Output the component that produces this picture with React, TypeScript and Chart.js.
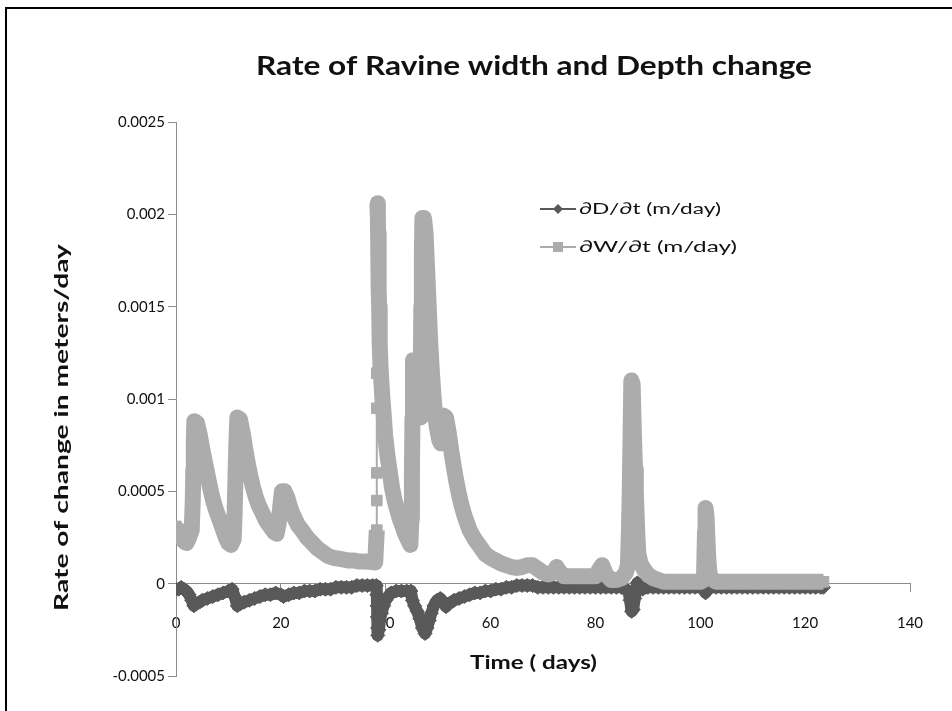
import React, { useEffect, useRef } from "react";
import { Chart, registerables } from "chart.js";

Chart.register(...registerables);

// ∂W/∂t series: [time (days), rate (m/day)]
const widthRatePoints: [number, number][] = [
  [0, 0.00031], [0.5, 0.00028], [1, 0.00025], [1.5, 0.00023], [2, 0.00022], [2.5, 0.00025], [3, 0.00029],
  [3.2, 0.00045], [3.3, 0.00062], [3.4, 0.00078], [3.5, 0.00088], [4, 0.00087], [4.5, 0.00081], [5, 0.00073],
  [5.5, 0.00066], [6, 0.00059], [6.5, 0.00052], [7, 0.00046], [7.5, 0.00041], [8, 0.00037], [8.5, 0.00033],
  [9, 0.00029], [9.5, 0.00025], [10, 0.00022], [10.5, 0.00021], [11, 0.00024],
  [11.2, 0.0004], [11.35, 0.00058], [11.5, 0.00075], [11.7, 0.0009], [12.2, 0.00089], [12.7, 0.00082],
  [13.2, 0.00073], [13.7, 0.00065], [14.2, 0.00058], [14.7, 0.00052], [15.2, 0.00047], [15.7, 0.00043],
  [16.2, 0.0004], [16.7, 0.00037], [17.2, 0.00034], [17.7, 0.00032], [18.2, 0.0003], [18.7, 0.00028], [19.2, 0.00027],
  [19.6, 0.00033], [19.9, 0.00042], [20.2, 0.0005], [20.7, 0.0005], [21.2, 0.00047], [21.7, 0.00042],
  [22.2, 0.00038], [22.7, 0.00035], [23.2, 0.00032], [24, 0.00029], [25, 0.00025], [26, 0.00022], [27, 0.00019],
  [28, 0.00017], [29, 0.00015], [30, 0.00014], [31, 0.000135], [32, 0.00013], [33, 0.000125], [34, 0.000125],
  [35, 0.00012], [36, 0.00012], [37, 0.000118], [38, 0.000115],
  [38.3, 0.00029], [38.3, 0.00045], [38.3, 0.0006], [38.3, 0.00095], [38.3, 0.00114], [38.4, 0.00206],
  [38.5, 0.00199], [38.55, 0.0019], [38.6, 0.0018], [38.65, 0.0017], [38.7, 0.0016], [38.75, 0.0015],
  [38.8, 0.0014], [38.9, 0.0013], [39, 0.00118], [39.2, 0.00108], [39.4, 0.00099], [39.6, 0.00092],
  [39.9, 0.0008], [40.3, 0.0007], [40.7, 0.00062], [41.2, 0.00052], [41.7, 0.00045], [42.2, 0.0004],
  [42.7, 0.00035], [43.2, 0.00031], [43.7, 0.00027], [44.2, 0.00024], [44.7, 0.00021],
  [44.9, 0.00035], [45, 0.0006], [45.1, 0.0009], [45.2, 0.00121], [45.5, 0.00118], [45.8, 0.0011],
  [46.1, 0.00102], [46.4, 0.00094], [46.6, 0.0009], [46.7, 0.0012], [46.8, 0.0015], [46.9, 0.0018],
  [47, 0.00198], [47.3, 0.00198], [47.6, 0.0019], [47.9, 0.0017], [48.2, 0.0015], [48.5, 0.0013],
  [48.8, 0.00115], [49.1, 0.00102], [49.4, 0.00092], [49.8, 0.00084], [50.2, 0.00078], [50.5, 0.00076],
  [50.7, 0.00085], [51, 0.00091], [51.5, 0.0009], [52, 0.00082], [52.5, 0.00072], [53, 0.00063],
  [53.5, 0.00055], [54, 0.00048], [54.5, 0.00042], [55, 0.00037], [55.5, 0.00033], [56, 0.00029],
  [57, 0.00024], [58, 0.0002], [59, 0.00016], [60, 0.00014], [61, 0.000125], [62, 0.00011], [63, 0.0001],
  [64, 0.00009], [65, 0.000085], [66, 0.00009], [67, 0.0001], [68, 0.0001], [69, 0.00008], [70, 0.00006],
  [71, 0.00005], [72, 0.00006], [72.6, 0.00009], [73.3, 0.00006], [74, 0.00004], [75, 0.00004], [76, 0.00004],
  [77, 0.00004], [78, 0.00004], [79, 0.00004], [80, 0.00004], [80.8, 0.00008], [81.3, 0.0001], [82, 0.00005],
  [83, 0.00002], [84, 0.00002], [85, 0.00003], [85.8, 0.00006], [86.2, 0.0001], [86.4, 0.0003], [86.55, 0.0005],
  [86.7, 0.0008], [86.85, 0.0011], [87.1, 0.00108], [87.25, 0.0009], [87.4, 0.00075], [87.55, 0.00062],
  [87.7, 0.0005], [87.85, 0.00038], [88, 0.00026], [88.2, 0.00016], [88.6, 0.00011], [89.2, 0.00008],
  [90, 0.00005], [91, 0.00003], [92, 0.00002], [93, 0.00001], [94, 0.00001], [95, 0.00001], [96, 0.00001],
  [97, 0.00001], [98, 0.00001], [99, 0.00001], [100, 0.00001], [100.7, 0.00002], [100.8, 0.00015],
  [100.9, 0.00028], [101, 0.00041], [101.2, 0.00036], [101.35, 0.00025], [101.5, 0.00015], [101.7, 0.00007],
  [102, 0.00003], [103, 0.00001], [104, 0.00001], [105, 0.00001], [106, 0.00001], [107, 0.00001],
  [108, 0.00001], [109, 0.00001], [110, 0.00001], [111, 0.00001], [112, 0.00001], [113, 0.00001],
  [114, 0.00001], [115, 0.00001], [116, 0.00001], [117, 0.00001], [118, 0.00001], [119, 0.00001],
  [120, 0.00001], [121, 0.00001], [122, 0.00001], [123, 0.00001], [123.5, 0.00001],
];

// ∂D/∂t series: [time (days), rate (m/day)]
const depthRatePoints: [number, number][] = [
  [0, -0.00003], [0.5, -0.00003], [1, -0.00002], [1.5, -0.00003], [2, -0.00004], [2.5, -0.00006], [3, -0.00009],
  [3.4, -0.00012], [3.8, -0.00011], [4.5, -0.0001], [5, -0.00009], [6, -0.00008], [7, -0.00007], [8, -0.00006],
  [9, -0.00005], [10, -0.00004], [10.7, -0.00003], [11.2, -0.00007], [11.7, -0.00012], [12.2, -0.00011],
  [13, -0.0001], [14, -0.00009], [15, -0.00008], [16, -0.00007], [17, -0.00006], [18, -0.00006], [19, -0.00005],
  [20, -0.00006], [20.5, -0.00007], [21.5, -0.00006], [22.5, -0.00005], [23.5, -0.00005], [24.5, -0.00004],
  [25.5, -0.00004], [26.5, -0.00004], [27.5, -0.00003], [28.5, -0.00003], [29.5, -0.00003], [30.5, -0.00002],
  [31.5, -0.00002], [32.5, -0.00002], [33.5, -0.00002], [34.5, -0.00001], [35.5, -0.00001], [36.5, -0.00001],
  [37.5, -0.00001], [38.2, -0.00001], [38.3, -0.00006], [38.35, -0.00012], [38.4, -0.00018], [38.45, -0.00024],
  [38.5, -0.00028], [38.7, -0.00025], [38.9, -0.0002], [39.2, -0.00016], [39.6, -0.00012], [40, -0.00009],
  [40.5, -0.00007], [41, -0.00005], [42, -0.00004], [43, -0.00004], [44, -0.00004], [44.8, -0.00004],
  [45.1, -0.00009], [45.5, -0.00012], [46, -0.00015], [46.5, -0.00019], [47, -0.00024], [47.5, -0.00027],
  [47.9, -0.00024], [48.3, -0.0002], [48.7, -0.00016], [49.2, -0.00012], [49.8, -0.00009], [50.4, -0.00008],
  [51, -0.0001], [51.5, -0.000125], [52, -0.00011], [53, -0.00009], [54, -0.00008], [55, -0.00007],
  [56, -0.00006], [57, -0.00005], [58, -0.00005], [59, -0.00004], [60, -0.00004], [61, -0.00003],
  [62, -0.00003], [63, -0.00002], [64, -0.00002], [65, -0.00001], [66, -0.00001], [67, -0.00001],
  [68, -0.00001], [69, -0.00002], [70, -0.00002], [71, -0.00002], [72, -0.00002], [73, -0.00002],
  [74, -0.00002], [75, -0.00002], [76, -0.00002], [77, -0.00002], [78, -0.00002], [79, -0.00002],
  [80, -0.00002], [81, -0.00002], [82, -0.00002], [83, -0.00002], [84, -0.00002], [85, -0.00002],
  [86.3, -0.00004], [86.6, -0.00009], [86.9, -0.00015], [87.2, -0.00014], [87.5, -0.00008], [87.8, -0.00002],
  [88, 0.000005], [88.4, -0.00002], [89, -0.00003], [90, -0.00002], [91, -0.00002], [92, -0.00002],
  [93, -0.00002], [94, -0.00002], [95, -0.00002], [96, -0.00002], [97, -0.00002], [98, -0.00002],
  [99, -0.00002], [100, -0.00002], [100.6, -0.00002], [101, -0.00005], [101.4, -0.00003], [102, -0.00002],
  [103, -0.00002], [104, -0.00002], [105, -0.00002], [106, -0.00002], [107, -0.00002], [108, -0.00002],
  [109, -0.00002], [110, -0.00002], [111, -0.00002], [112, -0.00002], [113, -0.00002], [114, -0.00002],
  [115, -0.00002], [116, -0.00002], [117, -0.00002], [118, -0.00002], [119, -0.00002], [120, -0.00002],
  [121, -0.00002], [122, -0.00002], [123, -0.00002], [123.5, -0.00002],
];

// days where the W series makes an isolated vertical jump (drawn with a thin connector)
const thinJumpDays = [38.3];

const xTickValues = [0, 20, 40, 60, 80, 100, 120, 140];
const xTickLabels = ["0", "20", "40", "60", "80", "100", "120", "140"];
const yTickValues = [-0.0005, 0, 0.0005, 0.001, 0.0015, 0.002, 0.0025];
const yTickLabels = ["-0.0005", "0", "0.0005", "0.001", "0.0015", "0.002", "0.0025"];

const seriesLabels = ["\u2202D/\u2202t (m/day)", "\u2202W/\u2202t (m/day)"];
const chartTitle = "Rate of Ravine width and Depth change";
const xAxisTitle = "Time ( days)";
const yAxisTitle = "Rate of change in meters/day";

const D_COLOR = "#595959";
const W_COLOR = "#acacac";
const AXIS_COLOR = "#8c8c8c";
const TEXT_COLOR = "#111111";
const FONT = "Lato";

function fitText(
  ctx: CanvasRenderingContext2D,
  text: string,
  x: number,
  y: number,
  width: number,
  font: string
) {
  ctx.save();
  ctx.font = font;
  ctx.textAlign = "left";
  ctx.textBaseline = "middle";
  const w = ctx.measureText(text).width;
  ctx.translate(x, y);
  ctx.scale(width / w, 1);
  ctx.fillText(text, 0, 0);
  ctx.restore();
}

const textPlugin = {
  id: "textPlugin",
  afterDraw(chart: any) {
    const ctx: CanvasRenderingContext2D = chart.ctx;
    ctx.save();
    ctx.fillStyle = TEXT_COLOR;
    fitText(ctx, chartTitle, 256, 67, 556, `bold 26px ${FONT}`);
    fitText(ctx, xAxisTitle, 470, 663, 127, `bold 18px ${FONT}`);
    ctx.save();
    ctx.translate(62, 428);
    ctx.rotate(-Math.PI / 2);
    fitText(ctx, yAxisTitle, -183, 0, 367, `bold 18px ${FONT}`);
    ctx.restore();

    const rows = [
      { y: 209, color: D_COLOR, shape: "diamond", text: seriesLabels[0], w: 142 },
      { y: 247, color: W_COLOR, shape: "square", text: seriesLabels[1], w: 158 },
    ];
    rows.forEach((r) => {
      ctx.strokeStyle = r.color;
      ctx.lineWidth = 2;
      ctx.beginPath();
      ctx.moveTo(540, r.y);
      ctx.lineTo(576, r.y);
      ctx.stroke();
      ctx.fillStyle = r.color;
      ctx.beginPath();
      if (r.shape === "diamond") {
        ctx.moveTo(558, r.y - 5);
        ctx.lineTo(563, r.y);
        ctx.lineTo(558, r.y + 5);
        ctx.lineTo(553, r.y);
        ctx.closePath();
      } else {
        ctx.rect(553, r.y - 5, 10, 10);
      }
      ctx.fill();
      ctx.fillStyle = TEXT_COLOR;
      fitText(ctx, r.text, 579, r.y, r.w, `16px ${FONT}`);
    });
    ctx.restore();
  },
};

export default function App() {
  const canvasRef = useRef<HTMLCanvasElement | null>(null);

  useEffect(() => {
    const canvas = canvasRef.current;
    if (!canvas) return;
    const chart = new Chart(canvas, {
      type: "scatter",
      data: {
        datasets: [
          {
            label: seriesLabels[0],
            data: depthRatePoints.map(([x, y]) => ({ x, y })),
            showLine: true,
            borderColor: D_COLOR,
            borderWidth: 12,
            borderJoinStyle: "round",
            borderCapStyle: "butt",
            pointStyle: "rectRot",
            pointRadius: 7,
            pointBackgroundColor: D_COLOR,
            pointBorderColor: D_COLOR,
            pointBorderWidth: 1,
            order: 1,
          },
          {
            label: seriesLabels[1],
            data: widthRatePoints.map(([x, y]) => ({ x, y })),
            showLine: true,
            borderColor: W_COLOR,
            borderWidth: 16,
            borderJoinStyle: "round",
            borderCapStyle: "butt",
            segment: {
              borderWidth: (c: any) => (thinJumpDays.includes(c.p0.parsed.x) ? 2 : 16),
            },
            pointStyle: "rect",
            pointRadius: 7.5,
            pointBackgroundColor: W_COLOR,
            pointBorderColor: W_COLOR,
            pointBorderWidth: 1,
            order: 0,
          } as any,
        ],
      },
      options: {
        animation: false,
        responsive: false,
        events: [],
        layout: { padding: { left: 56, right: 42, top: 122, bottom: 35 } },
        plugins: {
          legend: { display: false },
          title: { display: false },
          tooltip: { enabled: false },
        },
        scales: {
          x: {
            type: "linear",
            min: 0,
            max: 140,
            position: { y: 0 } as any,
            afterBuildTicks: (scale: any) => {
              scale.ticks = xTickValues.map((v) => ({ value: v }));
            },
            afterFit: (scale: any) => {
              scale.height = 0;
            },
            ticks: {
              autoSkip: false,
              maxRotation: 0,
              padding: 22,
              color: TEXT_COLOR,
              font: { family: FONT, size: 15 },
              callback: (v: any) => xTickLabels[xTickValues.indexOf(Number(v))],
            },
            grid: { drawOnChartArea: false, drawTicks: true, tickLength: 8, color: AXIS_COLOR },
            border: { display: true, color: AXIS_COLOR, width: 1 },
          },
          y: {
            type: "linear",
            min: -0.0005,
            max: 0.0025,
            afterBuildTicks: (scale: any) => {
              scale.ticks = yTickValues.map((v) => ({ value: v }));
            },
            afterFit: (scale: any) => {
              scale.width = 120;
            },
            ticks: {
              autoSkip: false,
              padding: 3,
              color: TEXT_COLOR,
              font: { family: FONT, size: 15 },
              callback: (v: any) => yTickLabels[yTickValues.indexOf(Number(v))],
            },
            grid: { drawOnChartArea: false, drawTicks: true, tickLength: 8, color: AXIS_COLOR },
            border: { display: true, color: AXIS_COLOR, width: 1 },
          },
        },
      },
      plugins: [textPlugin],
    });
    return () => chart.destroy();
  }, []);

  return (
    <div
      style={{
        position: "fixed",
        left: 0,
        top: 0,
        width: 952,
        height: 711,
        overflow: "hidden",
        background: "#ffffff",
      }}
    >
      <canvas
        ref={canvasRef}
        width={952}
        height={711}
        style={{ position: "absolute", left: 0, top: 0, width: 952, height: 711 }}
      />
      <div
        style={{
          position: "absolute",
          left: 5,
          top: 7,
          width: 1000,
          height: 1000,
          border: "2px solid #000",
          boxSizing: "border-box",
          pointerEvents: "none",
        }}
      />
    </div>
  );
}
